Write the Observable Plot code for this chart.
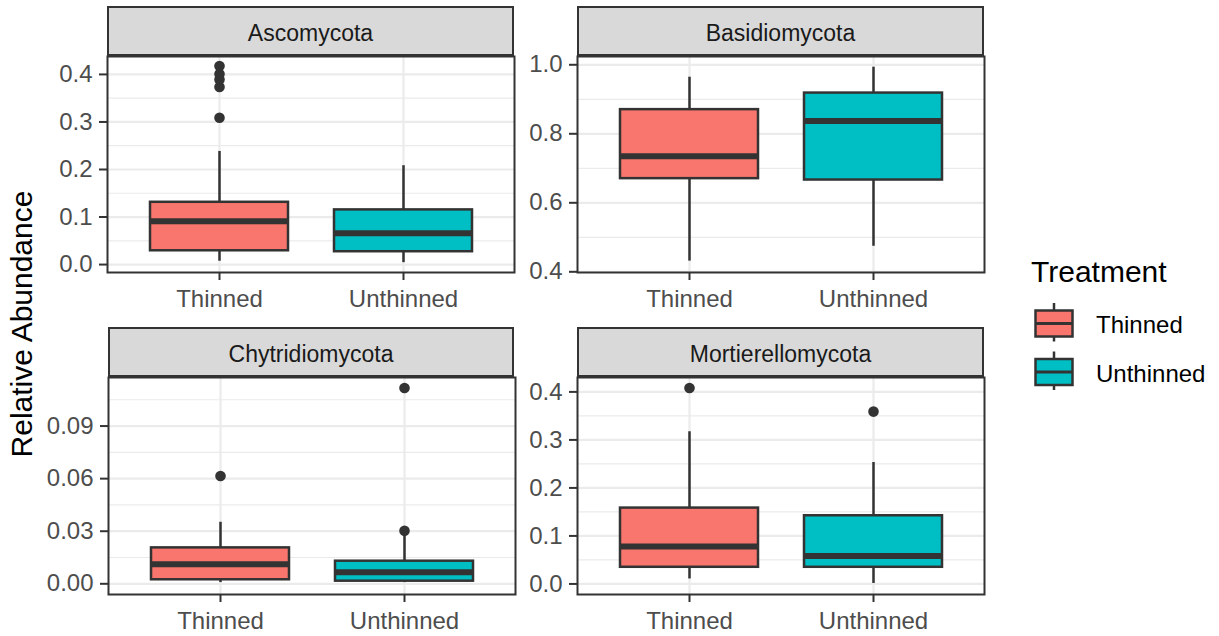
<!DOCTYPE html>
<html>
<head>
<meta charset="utf-8">
<script src="https://cdn.jsdelivr.net/npm/d3@7"></script>
<script src="https://cdn.jsdelivr.net/npm/@observablehq/plot@0.6"></script>
<style>
  body { margin: 0; background: white; }
  #chart { position: relative; width: 1219px; height: 636px; overflow: hidden; font-family: "Liberation Sans", Arial, sans-serif; background: white; }
  #chart > svg, #chart > .panel { position: absolute; }
  .strip { position: absolute; box-sizing: border-box; border: 2px solid #333; background: #D9D9D9; color: #1A1A1A; font-size: 23px; display: flex; align-items: center; justify-content: center; padding-top: 5px; }
  .ytitle { position: absolute; font-size: 30px; color: #000; white-space: nowrap; transform: translate(-50%, -50%) rotate(-90deg); }
  .legtitle { position: absolute; font-size: 30px; line-height: 1; color: #000; }
  .leglabel { position: absolute; font-size: 24px; line-height: 1; color: #000; }
</style>
</head>
<body>
<div id="chart"></div>
<script>
// ---------- data ----------
const facets = ["Ascomycota", "Basidiomycota", "Chytridiomycota", "Mortierellomycota"];
const treatments = ["Thinned", "Unthinned"];
const colors = ["#F8766D", "#00BFC4"];

// per facet: [Thinned, Unthinned]
const whiskerLow = [[0.007, 0.004], [0.431, 0.474], [0.0007, 0.0007], [0.0104, 0.001]];
const q1 = [[0.029, 0.027], [0.670, 0.666], [0.0023, 0.0015], [0.0347, 0.0347]];
const median = [[0.091, 0.066], [0.735, 0.837], [0.0112, 0.0066], [0.078, 0.058]];
const q3 = [[0.131, 0.115], [0.870, 0.918], [0.0205, 0.0129], [0.158, 0.142]];
const whiskerHigh = [[0.238, 0.208], [0.964, 0.993], [0.0351, 0.0295], [0.317, 0.253]];
const outliers = [
  [[0.309, 0.3734, 0.3895, 0.401, 0.4175], []],
  [[], []],
  [[0.0615], [0.0302, 0.1117]],
  [[0.408], [0.359]]
];

// axis settings
const yTicks = [[0, 0.1, 0.2, 0.3, 0.4], [0.4, 0.6, 0.8, 1.0], [0, 0.03, 0.06, 0.09], [0, 0.1, 0.2, 0.3, 0.4]];
const yMinor = [[0.05, 0.15, 0.25, 0.35], [0.5, 0.7, 0.9], [0.015, 0.045, 0.075, 0.105], [0.05, 0.15, 0.25, 0.35]];
const yDomains = [[-0.0167, 0.4377], [0.398, 1.024], [-0.0061, 0.1177], [-0.022, 0.430]];
const yFormats = [".1f", ".1f", ".2f", ".1f"];
const yTitle = "Relative Abundance";
const legendTitle = "Treatment";

// ---------- layout ----------
const chart = document.getElementById("chart");
const layout = [
  {left: 0,   top: 0,   height: 320, mt: 56, mb: 48, stripLeft: 107, stripTop: 6,   stripW: 407},
  {left: 470, top: 0,   height: 320, mt: 56, mb: 48, stripLeft: 577, stripTop: 6,   stripW: 407},
  {left: 1,   top: 320, height: 316, mt: 57, mb: 42, stripLeft: 108, stripTop: 327, stripW: 406},
  {left: 470, top: 320, height: 316, mt: 57, mb: 42, stripLeft: 577, stripTop: 327, stripW: 407}
];

facets.forEach((name, i) => {
  const rows = treatments.map((t, j) => ({
    treatment: t, lo: whiskerLow[i][j], q1: q1[i][j], med: median[i][j], q3: q3[i][j], hi: whiskerHigh[i][j]
  }));
  const outs = treatments.flatMap((t, j) => outliers[i][j].map(v => ({treatment: t, value: v})));
  const L = layout[i];
  const svg = Plot.plot({
    width: 519,
    height: L.height,
    marginLeft: 107,
    marginRight: 5,
    marginTop: L.mt,
    marginBottom: L.mb,
    style: {background: "transparent", fontFamily: "'Liberation Sans', Arial, sans-serif", fontSize: "24px", overflow: "visible"},
    x: {domain: treatments, paddingInner: 0.25, paddingOuter: 0.225, label: null},
    y: {domain: yDomains[i], label: null},
    color: {domain: treatments, range: colors},
    marks: [
      Plot.gridY({ticks: yMinor[i], stroke: "#EBEBEB", strokeOpacity: 1, strokeWidth: 1.2}),
      Plot.gridY({ticks: yTicks[i], stroke: "#EBEBEB", strokeOpacity: 1, strokeWidth: 2.2}),
      Plot.gridX({stroke: "#EBEBEB", strokeOpacity: 1, strokeWidth: 2.2}),
      Plot.ruleX(rows, {x: "treatment", y1: "lo", y2: "hi", stroke: "#333", strokeWidth: 2.5}),
      Plot.barY(rows, {x: "treatment", y1: "q1", y2: "q3", fill: "treatment", stroke: "#333", strokeWidth: 2.5}),
      Plot.tickY(rows, {x: "treatment", y: "med", stroke: "#333", strokeWidth: 6}),
      Plot.dot(outs, {x: "treatment", y: "value", r: 5.3, fill: "#333"}),
      Plot.axisY({ticks: yTicks[i], tickFormat: d3.format(yFormats[i]), tickSize: 8, tickPadding: 7, fontSize: 24,
                  fill: "#4D4D4D", stroke: "#333", strokeWidth: 2, label: null}),
      Plot.axisX({tickSize: 8, tickPadding: 9, fontSize: 24, fill: "#4D4D4D", stroke: "#333", strokeWidth: 2, label: null}),
      Plot.frame({stroke: "#333", strokeWidth: 2})
    ]
  });
  svg.style.position = "absolute";
  svg.style.left = L.left + "px";
  svg.style.top = L.top + "px";
  svg.style.maxWidth = "none";
  chart.appendChild(svg);

  const strip = document.createElement("div");
  strip.className = "strip";
  strip.style.left = L.stripLeft + "px";
  strip.style.top = L.stripTop + "px";
  strip.style.width = L.stripW + "px";
  strip.style.height = "50px";
  strip.textContent = name;
  chart.appendChild(strip);
});

// y axis title
const yt = document.createElement("div");
yt.className = "ytitle";
yt.style.left = "22px";
yt.style.top = "324px";
yt.textContent = yTitle;
chart.appendChild(yt);

// legend
const lt = document.createElement("div");
lt.className = "legtitle";
lt.style.left = "1031px";
lt.style.top = "257px";
lt.textContent = legendTitle;
chart.appendChild(lt);

const keySvg = d3.create("svg")
  .attr("width", 50).attr("height", 100)
  .style("position", "absolute").style("left", "1030px").style("top", "300px");
treatments.forEach((t, j) => {
  const g = keySvg.append("g").attr("transform", `translate(0, ${j * 48.5})`);
  g.append("line").attr("x1", 24).attr("x2", 24).attr("y1", 3).attr("y2", 41.5).attr("stroke", "#333").attr("stroke-width", 2.5);
  g.append("rect").attr("x", 5.5).attr("y", 10.5).attr("width", 37).attr("height", 26)
    .attr("fill", colors[j]).attr("stroke", "#333").attr("stroke-width", 2.5);
  g.append("line").attr("x1", 5.5).attr("x2", 42.5).attr("y1", 23.5).attr("y2", 23.5).attr("stroke", "#333").attr("stroke-width", 3);
  const lab = document.createElement("div");
  lab.className = "leglabel";
  lab.style.left = "1096px";
  lab.style.top = (300 + j * 48.5 + 23.5 - 10.5) + "px";
  lab.textContent = t;
  chart.appendChild(lab);
});
chart.appendChild(keySvg.node());
</script>
</body>
</html>
